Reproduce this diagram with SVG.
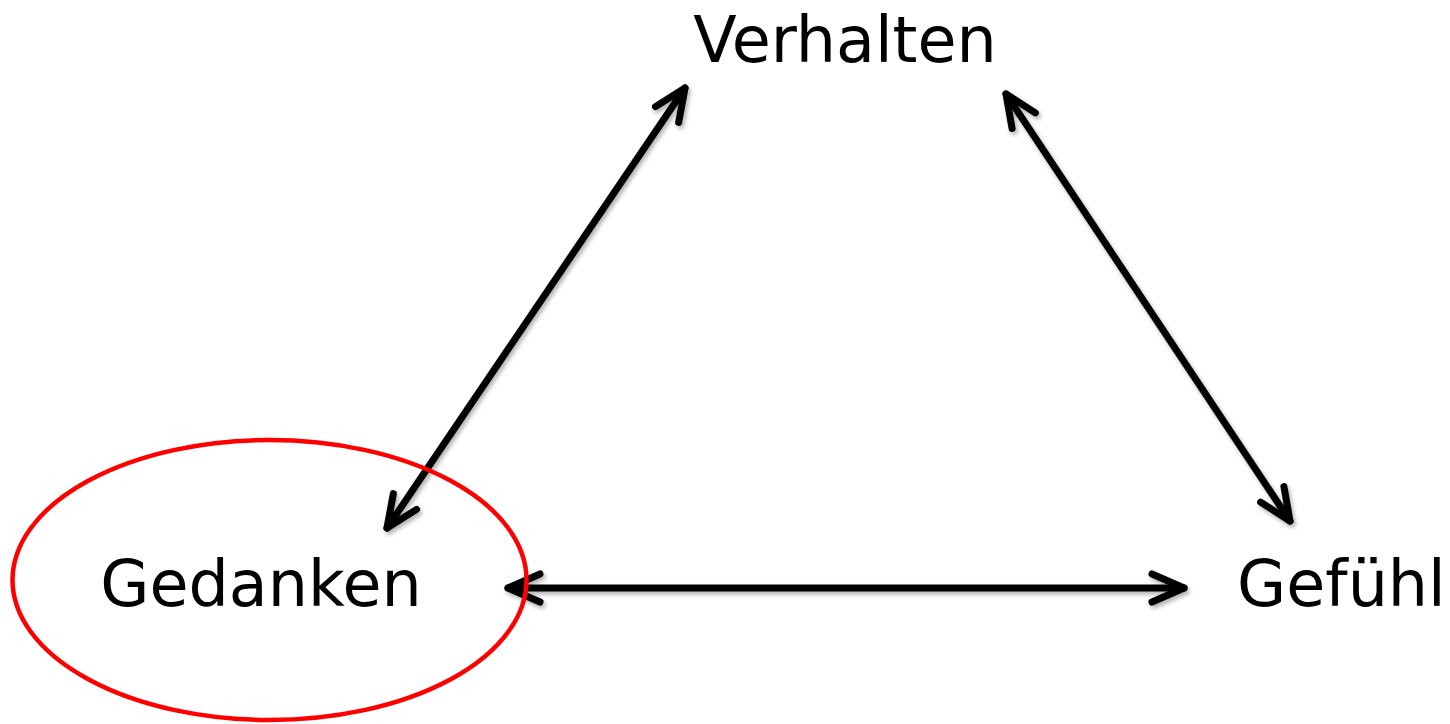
<svg xmlns="http://www.w3.org/2000/svg" width="1450" height="724" viewBox="0 0 1450 724">
  <style>
    .lbl { font-family: "DejaVu Sans", Verdana, sans-serif; font-size: 63.5px; fill: #000; }
    .conn { stroke: #000; stroke-width: 7; fill: none; stroke-linecap: round; }
  </style>
  <defs>
    <filter id="sh" x="-20%" y="-20%" width="140%" height="140%">
      <feDropShadow dx="2" dy="3" stdDeviation="2" flood-color="#000" flood-opacity="0.3"/>
    </filter>
    <marker id="ah" markerUnits="userSpaceOnUse" viewBox="-40 -20 46 40" refX="0" refY="0" markerWidth="46" markerHeight="40" orient="auto-start-reverse" overflow="visible">
      <path d="M-32,-14 L0,0 L-32,14" fill="none" stroke="#000" stroke-width="7" stroke-linecap="round" stroke-linejoin="round"/>
    </marker>
  </defs>
  <rect width="1450" height="724" fill="#fff"/>
  <g id="connectors" filter="url(#sh)">
    <line class="conn" x1="685" y1="88" x2="387" y2="528" marker-start="url(#ah)" marker-end="url(#ah)"/>
    <line class="conn" x1="1006" y1="94" x2="1290" y2="521" marker-start="url(#ah)" marker-end="url(#ah)"/>
    <line class="conn" x1="508" y1="588" x2="1184" y2="588" marker-start="url(#ah)" marker-end="url(#ah)"/>
  </g>
  <g id="verhalten">
    <text class="lbl" x="845" y="62" text-anchor="middle">Verhalten</text>
  </g>
  <g id="gedanken">
    <ellipse cx="269.5" cy="580" rx="257" ry="140" fill="none" stroke="#ff0000" stroke-width="4.5"/>
    <text class="lbl" x="261" y="606" text-anchor="middle">Gedanken</text>
  </g>
  <g id="gefuehl">
    <text class="lbl" x="1237" y="606">Gefühl</text>
  </g>
</svg>
